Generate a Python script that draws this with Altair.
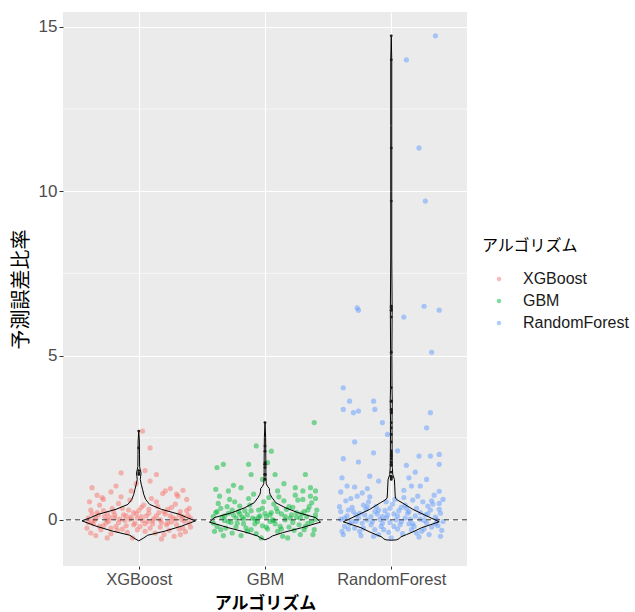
import altair as alt
import pandas as pd

CATEGORIES = ["XGBoost", "GBM", "RandomForest"]
COLORS = ["#F8766D", "#00BA38", "#619CFF"]
Y_TICKS = [0, 5, 10, 15]
Y_MINOR = [2.5, 7.5, 12.5]
REF_LINE = [0]

# (jitter offset in category units, value)
XGB_POINTS = [
    (-0.40, 0.05), (-0.36, -0.12), (-0.33, 0.22), (-0.30, -0.30), (-0.27, 0.10), (-0.24, -0.05), (-0.21, 0.35),
    (-0.18, -0.20), (-0.15, 0.02), (-0.12, 0.15), (-0.09, -0.38), (-0.06, 0.08), (-0.03, -0.10), (0.00, 0.28),
    (0.03, -0.02), (0.06, 0.12), (0.09, -0.25), (0.12, 0.04), (0.15, 0.40), (0.18, -0.08), (0.21, 0.18),
    (0.24, -0.32), (0.27, 0.06), (0.30, -0.15), (0.33, 0.25), (0.36, -0.04), (0.39, 0.14), (0.41, -0.22),
    (-0.41, -0.25), (-0.38, 0.30), (-0.35, 0.00), (-0.31, 0.45), (-0.28, -0.18), (-0.25, 0.20), (-0.22, -0.42),
    (-0.19, 0.06), (-0.16, 0.50), (-0.13, -0.28), (-0.10, 0.12), (-0.07, 0.60), (-0.04, -0.15), (-0.01, 0.05),
    (0.02, 0.38), (0.05, -0.35), (0.08, 0.20), (0.11, -0.12), (0.14, 0.55), (0.17, 0.00), (0.20, -0.45),
    (0.23, 0.32), (0.26, -0.06), (0.29, 0.48), (0.32, -0.28), (0.35, 0.10), (0.38, 0.62), (0.40, -0.10),
    (-0.39, 0.55), (-0.37, -0.05), (-0.34, -0.48), (-0.32, 0.15), (-0.29, 0.68), (-0.26, -0.10), (-0.23, 0.08),
    (-0.20, 0.25), (-0.17, -0.32), (-0.14, 0.70), (-0.11, -0.02), (-0.08, 0.30), (-0.05, -0.55), (-0.02, 0.18),
    (0.01, -0.20), (0.04, 0.45), (0.07, -0.05), (0.10, 0.65), (0.13, -0.40), (0.16, 0.22), (0.19, 0.80),
    (0.22, -0.15), (0.25, 0.12), (0.28, -0.50), (0.31, 0.72), (0.34, 0.02), (0.37, -0.36), (0.40, 0.35),
    (-0.40, -0.08), (-0.37, 0.18), (-0.34, 0.05), (-0.31, -0.20), (-0.28, 0.28), (-0.25, 0.00), (-0.22, -0.25),
    (-0.19, 0.15), (-0.16, -0.08), (-0.13, 0.35), (-0.10, -0.18), (-0.07, 0.02), (-0.04, 0.22), (-0.01, -0.30),
    (0.02, 0.10), (0.05, -0.12), (0.08, 0.32), (0.11, -0.02), (0.14, 0.12), (0.17, -0.22), (0.20, 0.25),
    (0.23, -0.10), (0.26, 0.38), (0.29, 0.02), (0.32, 0.15), (0.35, -0.25), (0.38, 0.28), (0.41, 0.05),
    (-0.37, 0.98), (-0.28, 0.62), (-0.18, 1.03), (-0.06, 0.88), (0.09, 1.18), (0.21, 0.88), (0.30, 0.78),
    (-0.14, 1.43), (0.14, 1.38), (0.09, 2.19), (0.03, 2.70), (-0.22, 0.85), (0.35, 0.90), (-0.33, 0.75),
    (0.25, 0.95), (-0.02, 1.10), (0.18, -0.58), (-0.25, -0.55), (0.33, -0.45), (-0.38, -0.40), (0.05, 1.50),
]

GBM_POINTS = [
    (-0.41, 0.10), (-0.38, -0.20), (-0.35, 0.35), (-0.32, -0.02), (-0.29, 0.20), (-0.26, -0.40), (-0.23, 0.05),
    (-0.20, 0.42), (-0.17, -0.12), (-0.14, 0.15), (-0.11, -0.30), (-0.08, 0.02), (-0.05, 0.30), (-0.02, -0.18),
    (0.01, 0.10), (0.04, -0.05), (0.07, 0.48), (0.10, -0.35), (0.13, 0.18), (0.16, 0.00), (0.19, -0.22),
    (0.22, 0.38), (0.25, 0.08), (0.28, -0.45), (0.31, 0.25), (0.34, -0.10), (0.37, 0.52), (0.40, 0.02),
    (-0.40, -0.35), (-0.37, 0.50), (-0.34, 0.08), (-0.31, -0.25), (-0.28, 0.62), (-0.25, 0.15), (-0.22, -0.10),
    (-0.19, -0.48), (-0.16, 0.28), (-0.13, 0.65), (-0.10, 0.05), (-0.07, -0.42), (-0.04, 0.12), (-0.01, 0.55),
    (0.02, -0.28), (0.05, 0.22), (0.08, -0.12), (0.11, 0.70), (0.14, -0.50), (0.17, 0.32), (0.20, 0.05),
    (0.23, -0.32), (0.26, 0.60), (0.29, 0.18), (0.32, -0.20), (0.35, 0.40), (0.38, -0.45), (0.41, 0.30),
    (-0.39, 0.22), (-0.36, 0.72), (-0.33, -0.48), (-0.30, 0.40), (-0.27, -0.08), (-0.24, 0.55), (-0.21, 0.25),
    (-0.18, 0.08), (-0.15, -0.25), (-0.12, 0.45), (-0.09, 0.78), (-0.06, -0.05), (-0.03, -0.55), (0.00, 0.20),
    (0.03, 0.68), (0.06, 0.00), (0.09, 0.35), (0.12, -0.20), (0.15, 0.58), (0.18, -0.55), (0.21, 0.15),
    (0.24, 0.75), (0.27, -0.15), (0.30, 0.62), (0.33, 0.10), (0.36, 0.72), (0.39, -0.30), (0.40, 0.65),
    (-0.41, -0.10), (-0.38, 0.25), (-0.35, -0.30), (-0.32, 0.12), (-0.29, -0.05), (-0.26, 0.30), (-0.23, -0.22),
    (-0.20, 0.18), (-0.17, 0.02), (-0.14, -0.35), (-0.11, 0.28), (-0.08, -0.12), (-0.05, 0.08), (-0.02, 0.35),
    (0.01, -0.22), (0.04, 0.15), (0.07, -0.02), (0.10, 0.25), (0.13, -0.28), (0.16, 0.10), (0.19, 0.40),
    (0.22, -0.08), (0.25, 0.22), (0.28, 0.05), (0.31, -0.30), (0.34, 0.30), (0.37, -0.05), (0.40, 0.15),
    (0.39, 2.96), (-0.07, 2.25), (-0.13, 1.69), (-0.38, 1.59), (-0.33, 1.69), (-0.11, 1.38), (0.08, 1.38),
    (0.32, 1.38), (-0.39, 0.93), (-0.29, 0.88), (-0.19, 0.98), (0.10, 0.88), (0.24, 0.98), (0.30, 0.88),
    (0.36, 0.98), (0.40, 0.88), (-0.02, 1.23), (0.15, 1.10), (-0.25, 1.05), (0.02, 1.74), (0.05, 2.09),
]

RF_POINTS = [
    (-0.40, 0.02), (-0.37, -0.20), (-0.34, 0.30), (-0.31, -0.05), (-0.28, 0.15), (-0.25, -0.35), (-0.22, 0.45),
    (-0.19, 0.00), (-0.16, -0.15), (-0.13, 0.25), (-0.10, -0.45), (-0.07, 0.10), (-0.04, 0.55), (-0.01, -0.08),
    (0.02, 0.18), (0.05, -0.28), (0.08, 0.38), (0.11, 0.05), (0.14, -0.12), (0.17, 0.60), (0.20, -0.40),
    (0.23, 0.22), (0.26, -0.02), (0.29, 0.42), (0.32, -0.22), (0.35, 0.08), (0.38, 0.50), (0.40, -0.32),
    (-0.41, 0.40), (-0.38, -0.45), (-0.35, 0.12), (-0.32, 0.65), (-0.29, -0.25), (-0.26, 0.05), (-0.23, -0.10),
    (-0.20, 0.32), (-0.17, 0.70), (-0.14, -0.50), (-0.11, 0.18), (-0.08, -0.20), (-0.05, 0.28), (-0.02, -0.38),
    (0.01, 0.48), (0.04, 0.00), (0.07, -0.15), (0.10, 0.68), (0.13, 0.20), (0.16, -0.30), (0.19, 0.12),
    (0.22, -0.52), (0.25, 0.55), (0.28, -0.10), (0.31, 0.30), (0.34, 0.75), (0.37, -0.18), (0.39, 0.20),
    (-0.39, -0.35), (-0.36, 0.58), (-0.33, -0.12), (-0.30, 0.25), (-0.27, 0.72), (-0.24, -0.48), (-0.21, 0.15),
    (-0.18, 0.55), (-0.15, -0.05), (-0.12, 0.40), (-0.09, 0.02), (-0.06, -0.30), (-0.03, 0.15), (0.00, -0.55),
    (0.03, 0.62), (0.06, 0.28), (0.09, -0.42), (0.12, 0.35), (0.15, 0.02), (0.18, -0.20), (0.21, 0.72),
    (0.24, -0.35), (0.27, 0.15), (0.30, -0.45), (0.33, 0.48), (0.36, 0.00), (0.39, -0.50), (0.41, 0.62),
    (-0.40, 0.25), (-0.37, 0.05), (-0.34, -0.28), (-0.31, 0.38), (-0.28, -0.05), (-0.25, 0.20), (-0.22, -0.25),
    (-0.19, 0.40), (-0.16, 0.10), (-0.13, -0.30), (-0.10, 0.30), (-0.07, -0.10), (-0.04, 0.05), (-0.01, 0.35),
    (0.02, -0.20), (0.05, 0.12), (0.08, -0.05), (0.11, 0.45), (0.14, 0.25), (0.17, -0.12), (0.20, 0.35),
    (0.23, 0.02), (0.26, -0.28), (0.29, 0.18), (0.32, 0.58), (0.35, -0.12), (0.38, 0.32), (0.41, -0.05),
    (0.35, 14.73), (0.12, 14.00), (0.22, 11.32), (0.27, 9.70), (-0.27, 6.45), (-0.26, 6.38), (0.10, 6.17),
    (0.26, 6.50), (0.38, 6.38), (0.32, 5.10), (-0.38, 4.02), (-0.33, 3.61), (-0.14, 3.61), (-0.38, 3.36),
    (-0.30, 3.26), (-0.26, 3.31), (-0.13, 3.36), (0.31, 3.26), (-0.07, 2.96), (0.28, 2.80), (-0.03, 2.60),
    (-0.29, 2.37), (-0.14, 2.04), (0.05, 2.10), (0.22, 1.94), (0.31, 1.94), (0.38, 1.99), (-0.38, 1.86),
    (-0.26, 1.76), (0.38, 1.69), (0.12, 1.66), (-0.17, 1.33), (0.19, 1.45), (-0.39, 1.28), (-0.10, 1.18),
    (0.14, 1.28), (0.28, 1.23), (-0.35, 1.03), (-0.29, 1.00), (-0.19, 0.95), (0.10, 0.90), (0.16, 1.03),
    (0.23, 1.03), (0.38, 0.87), (-0.40, 0.85), (-0.23, 0.82),
]

# violin outlines: value levels and half-widths (category units)
XGB_VIOLIN_Y = [-0.64, -0.55, -0.47, -0.34, -0.19, -0.03, 0.07, 0.17, 0.32, 0.47, 0.62, 0.77, 0.93, 1.08,
                1.23, 1.33, 1.43, 1.52, 1.62, 2.0, 2.4, 2.70]
XGB_VIOLIN_W = [0.0, 0.04, 0.07, 0.21, 0.34, 0.45, 0.38, 0.32, 0.18, 0.086, 0.055, 0.04, 0.03, 0.02,
                0.012, 0.015, 0.018, 0.012, 0.007, 0.006, 0.005, 0.0]
GBM_VIOLIN_Y = [-0.61, -0.55, -0.49, -0.39, -0.24, -0.07, 0.07, 0.22, 0.37, 0.52, 0.68, 0.78, 0.86, 0.95,
                1.02, 1.10, 1.3, 1.7, 2.1, 2.5, 2.96]
GBM_VIOLIN_W = [0.0, 0.035, 0.06, 0.14, 0.29, 0.44, 0.40, 0.26, 0.16, 0.086, 0.055, 0.04, 0.035, 0.035,
                0.02, 0.01, 0.007, 0.007, 0.006, 0.005, 0.0]
RF_VIOLIN_Y = [-0.62, -0.61, -0.58, -0.52, -0.45, -0.37, -0.24, -0.06, 0.12, 0.32, 0.52, 0.60, 0.66, 0.82,
               1.0, 1.23, 1.38, 1.6, 2.0, 3.0, 3.6, 4.0, 5.0, 6.4, 8.0, 10.0, 12.0, 14.0, 14.70]
RF_VIOLIN_W = [0.0, 0.04, 0.06, 0.075, 0.12, 0.17, 0.24, 0.38, 0.28, 0.17, 0.086, 0.05, 0.033, 0.03,
               0.028, 0.025, 0.012, 0.008, 0.007, 0.006, 0.008, 0.006, 0.005, 0.007, 0.004, 0.004, 0.004,
               0.004, 0.0]

OUTLIER_THRESHOLD = 1.2

# ---- tables ----
pt_rows = []
for i, (cat, pts) in enumerate(zip(CATEGORIES, [XGB_POINTS, GBM_POINTS, RF_POINTS])):
    for off, v in pts:
        pt_rows.append({"algo": cat, "pos": i + 1, "jitter": off, "value": v})
points = pd.DataFrame(pt_rows)

vi_rows = []
for i, (cat, ys, ws) in enumerate(zip(CATEGORIES, [XGB_VIOLIN_Y, GBM_VIOLIN_Y, RF_VIOLIN_Y],
                                       [XGB_VIOLIN_W, GBM_VIOLIN_W, RF_VIOLIN_W])):
    seq = 0
    for y, w in zip(ys, ws):
        vi_rows.append({"algo": cat, "pos": i + 1, "side": 1, "w": w, "y": y, "seq": seq})
        seq += 1
    for y, w in zip(reversed(ys), reversed(ws)):
        vi_rows.append({"algo": cat, "pos": i + 1, "side": -1, "w": w, "y": y, "seq": seq})
        seq += 1
violins = pd.DataFrame(vi_rows)

label_expr = "[" + ",".join("'" + c + "'" for c in CATEGORIES) + "][datum.value - 1]"

xscale = alt.Scale(domain=[0.4, 3.6], nice=False, zero=False)
yscale = alt.Scale(domain=[-1.405, 15.456], nice=False, zero=False)

LAT = "Liberation Sans"
JP = "Noto Sans CJK JP"

xaxis = alt.Axis(values=[1, 2, 3], labelExpr=label_expr, title="アルゴリズム", grid=True,
                 gridColor="white", gridWidth=1.1, domain=False, tickColor="#333333", tickSize=3,
                 labelColor="#4D4D4D", labelFontSize=16.5, labelFont=LAT, labelPadding=2,
                 titleFont=JP, titleFontSize=17, titleFontWeight="bold", titleColor="black",
                 titleY=46, titleBaseline="bottom")
yaxis = alt.Axis(values=Y_TICKS, title="予測誤差比率", grid=True, gridColor="white", gridWidth=1.1,
                 domain=False, tickColor="#333333", tickSize=4, labelColor="#4D4D4D", labelFontSize=17,
                 labelFont=LAT, labelPadding=2, titleFont=JP, titleFontSize=20, titleFontWeight="normal",
                 titleColor="black", titlePadding=7)

minor = alt.Chart(pd.DataFrame({"v": Y_MINOR})).mark_rule(color="white", strokeWidth=0.6).encode(
    y=alt.Y("v:Q", scale=yscale, axis=yaxis)
)

dots = alt.Chart(points).transform_calculate(xj="datum.pos + datum.jitter").mark_circle(
    size=27, opacity=0.5
).encode(
    x=alt.X("xj:Q", scale=xscale, axis=xaxis),
    y=alt.Y("value:Q", scale=yscale, axis=yaxis),
    color=alt.Color(
        "algo:N",
        scale=alt.Scale(domain=CATEGORIES, range=COLORS),
        legend=alt.Legend(title="アルゴリズム", orient="none", legendX=419, legendY=226,
                          titleFont=JP, titleFontSize=16, titleFontWeight="normal", titleColor="black",
                          labelFont=LAT, labelFontSize=16, labelColor="#1A1A1A", symbolType="circle",
                          symbolSize=20, symbolOpacity=0.5, rowPadding=6, labelOffset=16,
                          symbolOffset=9, titlePadding=17, symbolStrokeWidth=0),
    ),
)

violin = alt.Chart(violins).transform_calculate(vx="datum.pos + datum.side * datum.w").mark_line(
    color="black", strokeWidth=1
).encode(
    x=alt.X("vx:Q", scale=xscale, axis=xaxis),
    y=alt.Y("y:Q", scale=yscale, axis=yaxis),
    detail="algo:N",
    order="seq:Q",
)

outliers = alt.Chart(points).transform_filter(f"datum.value > {OUTLIER_THRESHOLD}").mark_circle(
    size=8, color="#1A1A1A", opacity=1
).encode(
    x=alt.X("pos:Q", scale=xscale, axis=xaxis),
    y=alt.Y("value:Q", scale=yscale, axis=yaxis),
)

hline = alt.Chart(pd.DataFrame({"z": REF_LINE})).mark_rule(
    color="#333333", strokeDash=[5, 4], strokeWidth=1
).encode(y=alt.Y("z:Q", scale=yscale, axis=yaxis))

chart = alt.layer(minor, dots, violin, outliers, hline).properties(
    width=404, height=554,
    autosize=alt.AutoSizeParams(type="none"),
    padding={"left": 63, "top": 12, "right": 168, "bottom": 46},
    background="white",
).configure_view(fill="#EBEBEB", strokeWidth=0)

chart.save("out.html", embed_options={"renderer": "svg", "actions": False})
